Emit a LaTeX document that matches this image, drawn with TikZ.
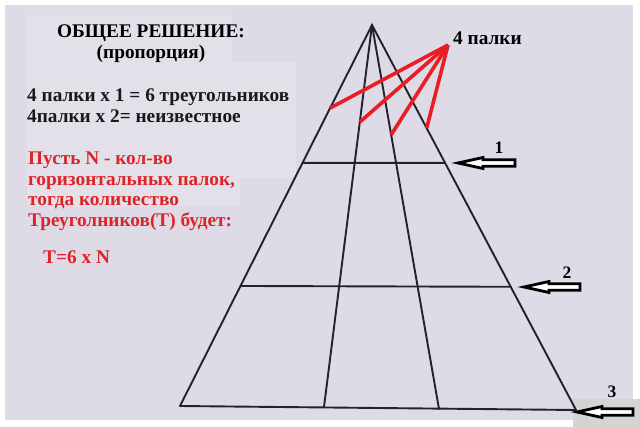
\documentclass[tikz,border=0pt]{standalone}
\usepackage{fontspec}
\setmainfont{Liberation Serif}
\usetikzlibrary{calc}

\definecolor{paper}{RGB}{222,218,230}
\definecolor{patch}{RGB}{227,224,234}
\definecolor{ink}{RGB}{35,33,45}
\definecolor{fanred}{RGB}{236,28,36}
\definecolor{note}{RGB}{222,36,40}

\tikzset{
	stick/.style={ink, line width=1.9pt, line cap=round},
	fan/.style={fanred, line width=3.6pt},
	hollow/.style={draw=black, fill=white, line width=2.8pt, line join=miter},
	txt/.style={inner sep=0pt, font=\bfseries\fontsize{19.3}{20.5}\selectfont},
	num/.style={inner sep=0pt, font=\bfseries\fontsize{17.5}{17.5}\selectfont}
}

% hollow arrow, tip at #1,#2
\def\harrow#1#2#3{%
	\draw[hollow,shift={(#1,#2)}] (0,0) -- (25,-5.5) -- (25,-3.3) -- (#3,-3.3) -- (#3,3.3) -- (25,3.3) -- (25,5.5) -- cycle;}

\begin{document}
\begin{tikzpicture}[x=1pt,y=-1pt]
	\useasboundingbox (0,0) rectangle (640,427);
	\fill[white] (0,0) rectangle (640,427);
	\fill[paper] (5,5) rectangle (633,420);
	\fill[patch] (27,15) rectangle (232,62);
	\fill[patch] (27,62) rectangle (296,178);
	\fill[patch] (27,178) rectangle (240,206);
	\fill[black!17] (573,399) rectangle (640,427);
	
	% triangle
	\coordinate (apex) at (372,25);
	\coordinate (bl) at (180,406);
	\coordinate (br) at (576,410);
	\coordinate (il) at (324,407);
	\coordinate (ir) at (439,409);
	
	\draw[stick] (bl) -- (apex) -- (br);
	\draw[stick] (apex) -- (il);
	\draw[stick] (apex) -- (ir);
	\draw[stick] ($(apex)!0.362!(bl)$) -- ($(apex)!0.358!(br)$);
	\draw[stick] ($(apex)!0.685!(bl)$) -- ($(apex)!0.680!(br)$);
	\draw[stick] (bl) -- (br);
	
	% red sticks
	\node[txt, anchor=west] (sticks) at (453,38) {4 палки};
	\coordinate (hub) at (448,45);
	\draw[fan] (hub) -- ($(apex)!0.218!(bl)$);
	\draw[fan] (hub) -- ($(apex)!0.254!(il)$);
	\draw[fan] (hub) -- ($(apex)!0.286!(ir)$);
	\draw[fan] (hub) -- ($(apex)!0.268!(br)$);
	
	% arrows
	\harrow{458}{163}{57}
	\harrow{524}{287}{56}
	\harrow{577}{412}{56}
	\node[num] (one) at (499,148) {1};
	\node[num] (two) at (567,273) {2};
	\node[num] (three) at (612,392) {3};
	
	% text
	\node[txt, align=center, anchor=north] (title) at (151,25) {ОБЩЕЕ РЕШЕНИЕ:\\(пропорция)};
	\node[txt, align=left, anchor=north west, text=black!90] (ratio) at (27,89) {4 палки x 1 = 6 треугольников\\4палки x 2= неизвестное};
	\node[txt, align=left, anchor=north west, text=note] (rule) at (28,152) {\baselineskip=21.3pt Пусть N - кол-во\\горизонтальных палок,\\тогда количество\\Треуголников(Т) будет:};
	\node[txt, anchor=north west, text=note] (formula) at (43,251) {T=6 x N};
\end{tikzpicture}
\end{document}
